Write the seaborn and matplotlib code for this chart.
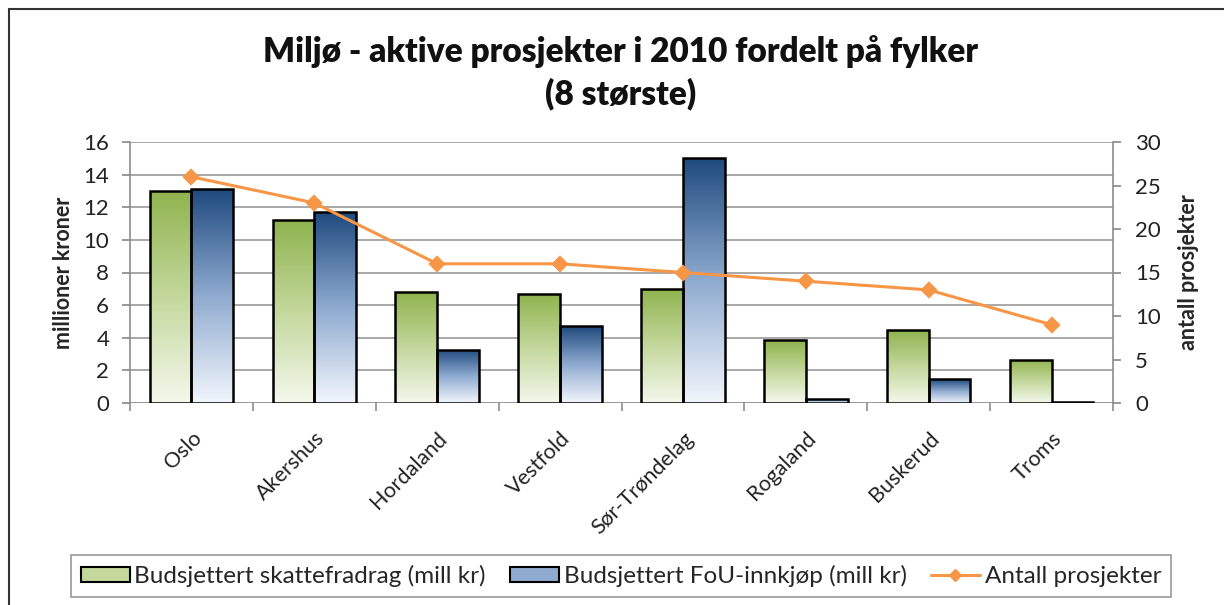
import numpy as np
import pandas as pd
import matplotlib
matplotlib.use("Agg")
import matplotlib.pyplot as plt
import seaborn as sns
from matplotlib.patches import Patch
from matplotlib.lines import Line2D
from matplotlib.colors import LinearSegmentedColormap

categories = ["Oslo", "Akershus", "Hordaland", "Vestfold", "Sør-Trøndelag",
              "Rogaland", "Buskerud", "Troms"]
skattefradrag = [13.0, 11.2, 6.8, 6.7, 7.0, 3.85, 4.45, 2.65]
fou_innkjop = [13.1, 11.7, 3.25, 4.7, 15.0, 0.25, 1.45, 0.05]
antall = [26, 23, 16, 16, 15, 14, 13, 9]
series_names = ["Budsjettert skattefradrag (mill kr)", "Budsjettert FoU-innkjøp (mill kr)"]
line_name = "Antall prosjekter"

sns.set_theme(style="white")
plt.rcParams['font.family'] = ['Lato', 'DejaVu Sans']

df = pd.DataFrame({
    "fylke": categories * 2,
    "serie": [series_names[0]] * len(categories) + [series_names[1]] * len(categories),
    "verdi": skattefradrag + fou_innkjop,
})

W, H = 1224, 605
fig = plt.figure(figsize=(W / 100, H / 100), dpi=100)
ax = fig.add_axes([130 / W, 1 - 403 / H, (1113 - 130) / W, (403 - 142) / H])

green_top, blue_top = "#8fb34e", "#1f4a7e"
sns.barplot(data=df, x="fylke", y="verdi", hue="serie", order=categories,
            hue_order=series_names, palette=[green_top, blue_top],
            width=0.68, ax=ax, legend=False, edgecolor="black", linewidth=1.8,
            saturation=1)

ax.set_ylim(0, 16)
ax.set_xlim(-0.5, len(categories) - 0.5)

cmaps = {
    green_top: LinearSegmentedColormap.from_list("g", ["#f4f8ec", "#c4d89c", green_top]),
    blue_top: LinearSegmentedColormap.from_list("b", ["#f2f6fc", "#8fabd0", blue_top]),
}
grad = np.linspace(0, 1, 256).reshape(-1, 1)
for i, p in enumerate(list(ax.patches)):
    cm = cmaps[green_top] if i < len(categories) else cmaps[blue_top]
    x0, y0 = p.get_x(), p.get_y()
    w, h = p.get_width(), p.get_height()
    if h <= 0:
        continue
    im = ax.imshow(grad, cmap=cm, origin="lower", aspect="auto",
                   extent=[x0, x0 + w, y0, y0 + h], zorder=p.get_zorder() - 0.1,
                   interpolation="bilinear")
    im.set_clip_path(p)
    p.set_facecolor("none")
ax.set_xlim(-0.5, len(categories) - 0.5)
ax.set_ylim(0, 16)

ax.set_yticks(np.arange(0, 17, 2))
ax.yaxis.grid(True, color="#9a9a9a", linewidth=1.2)
ax.set_axisbelow(True)
for s in ["top", "right", "bottom"]:
    ax.spines[s].set_visible(False)
ax.spines["left"].set_color("#8c8c8c")
ax.spines["left"].set_linewidth(1.2)
ax.tick_params(axis="y", which="both", left=True, length=6, color="#8c8c8c",
               labelsize=16, labelcolor="#222222", pad=9)
ax.tick_params(axis="x", bottom=False, labelsize=15.5, labelcolor="#222222")
ax.set_xticks(range(len(categories)))
ax.set_xticklabels(categories, rotation=45, ha="right", rotation_mode="anchor")
for lbl in ax.get_xticklabels():
    lbl.set_transform(lbl.get_transform() + matplotlib.transforms.ScaledTranslation(0.0, -0.12, fig.dpi_scale_trans))
ax.set_xticks(np.arange(-0.5, len(categories), 1), minor=True)
ax.tick_params(axis="x", which="minor", bottom=True, length=6, color="#8c8c8c", width=1.2)
ax.axhline(0, color="#8c8c8c", linewidth=1.2, zorder=0.5)
ax.set_xlabel("")
ax.set_ylabel("millioner kroner", fontsize=15.5, fontweight="bold", labelpad=7)

ax2 = ax.twinx()
line_df = pd.DataFrame({"fylke": categories, "antall": antall})
sns.pointplot(data=line_df, x="fylke", y="antall", order=categories, ax=ax2,
              color="#f79646", markers="D", linestyles="-", markersize=7,
              linewidth=2.2)
ax2.set_ylim(0, 30)
ax2.set_xlim(-0.5, len(categories) - 0.5)
ax2.set_yticks(np.arange(0, 31, 5))
for s in ["top", "left", "bottom"]:
    ax2.spines[s].set_visible(False)
ax2.spines["right"].set_color("#8c8c8c")
ax2.spines["right"].set_linewidth(1.2)
ax2.tick_params(axis="y", right=True, length=6, color="#8c8c8c", labelsize=16,
                labelcolor="#222222", pad=10)
ax2.set_ylabel("antall prosjekter", fontsize=15.5, fontweight="bold", labelpad=12)
ax2.set_xlabel("")
ax2.grid(False)

fig.text(0.507, 1 - 52 / H, "Miljø - aktive prosjekter i 2010 fordelt på fylker",
         ha="center", va="center", fontsize=24, fontweight="heavy", color="#111111")
fig.text(0.507, 1 - 94 / H, "(8 største)", ha="center", va="center",
         fontsize=24, fontweight="heavy", color="#111111")

fig.add_artist(Line2D([9 / W, 1], [1 - 9 / H, 1 - 9 / H], color="#333333", linewidth=1.5))
fig.add_artist(Line2D([9 / W, 9 / W], [0, 1 - 9 / H], color="#333333", linewidth=1.5))

handles = [
    Patch(facecolor="#c4d89c", edgecolor="black", linewidth=1.5),
    Patch(facecolor="#8fabd0", edgecolor="black", linewidth=1.5),
    Line2D([0], [0], color="#f79646", marker="D", markersize=6, linewidth=2.2),
]
leg = fig.legend(handles, [series_names[0], series_names[1], line_name],
                 loc="center", bbox_to_anchor=(621 / W, 1 - 576 / H), ncol=3,
                 fontsize=17.5, frameon=True, fancybox=False, edgecolor="#7f7f7f",
                 handlelength=2.0, handleheight=0.6, handletextpad=0.2,
                 columnspacing=1.0, borderpad=0.4)
leg.get_frame().set_linewidth(1.2)

fig.savefig("out.png", dpi=100, facecolor="white")
